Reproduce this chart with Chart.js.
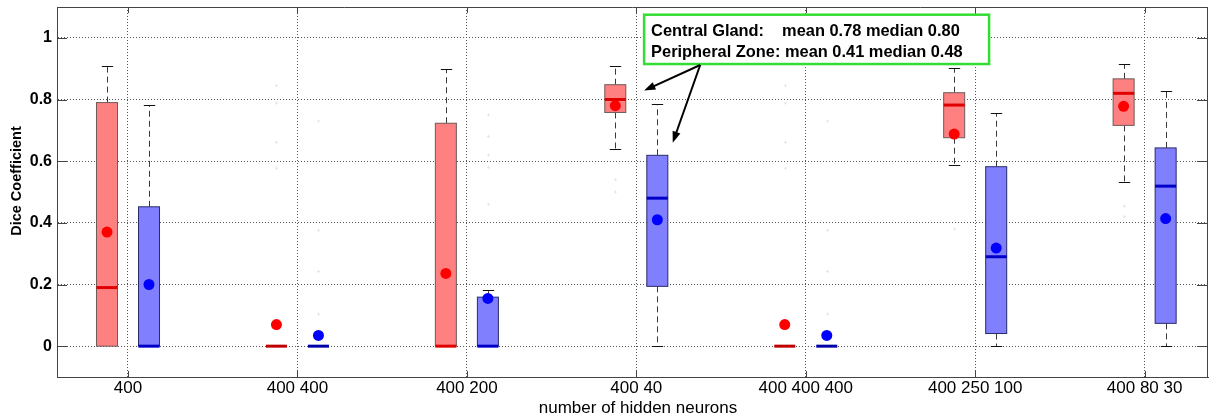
<!DOCTYPE html>
<html>
<head>
<meta charset="utf-8">
<script src="https://cdn.jsdelivr.net/npm/chart.js@4.4.1/dist/chart.umd.min.js"></script>
<style>
  html, body { margin: 0; padding: 0; background: #fff; }
  #wrap { width: 1216px; height: 419px; position: relative; }
</style>
</head>
<body>
<div id="wrap"><canvas id="diceChart"></canvas></div>
<script>
// network configurations on the x axis
const labels = ['400', '400 400', '400 200', '400 40', '400 400 400', '400 250 100', '400 80 30'];
const yTicks = [0, 0.2, 0.4, 0.6, 0.8, 1];

// Central Gland (red)
const cgLow  = [0,     0, 0,     0.638, 0, 0.587, 0.532];
const cgQ1   = [0,     0, 0,     0.758, 0, 0.676, 0.716];
const cgMed  = [0.19,  0, 0,     0.80,  0, 0.782, 0.82];
const cgQ3   = [0.79,  0, 0.723, 0.848, 0, 0.822, 0.867];
const cgHigh = [0.908, 0, 0.898, 0.908, 0, 0.903, 0.915];
const cgMean = [0.37,  0.07, 0.236, 0.78, 0.07, 0.688, 0.778];
const cgOut  = [[], [0.845, 0.788, 0.661, 0.577], [], [0.54, 0.50], [0.845, 0.788, 0.661, 0.577], [0.38], [0.454, 0.42]];

// Peripheral Zone (blue)
const pzLow  = [0,     0, 0,     0,     0, 0,     0];
const pzQ1   = [0,     0, 0,     0.194, 0, 0.041, 0.074];
const pzMed  = [0,     0, 0,     0.48,  0, 0.29,  0.519];
const pzQ3   = [0.452, 0, 0.159, 0.619, 0, 0.582, 0.643];
const pzHigh = [0.782, 0, 0.182, 0.787, 0, 0.755, 0.826];
const pzMean = [0.2,   0.035, 0.155, 0.41, 0.035, 0.318, 0.414];
const pzOut  = [[], [0.73, 0.376, 0.242, 0.104], [0.75, 0.68, 0.62, 0.58, 0.46], [], [0.73, 0.376, 0.242, 0.104], [], []];

const SHIFT = 0.124;   // box offset from the tick, in category units
const BOXW = 0.124;    // box width, in category units
const FONT = '"Liberation Sans", Arial, sans-serif';

const series = [
  { low: cgLow, q1: cgQ1, med: cgMed, q3: cgQ3, high: cgHigh, out: cgOut, shift: -SHIFT,
    fill: '#ff8080', edge: '#6e5a5a', medColor: '#e00000', flatColor: '#c00000' },
  { low: pzLow, q1: pzQ1, med: pzMed, q3: pzQ3, high: pzHigh, out: pzOut, shift: SHIFT,
    fill: '#8080ff', edge: '#2a2a6a', medColor: '#0000c8', flatColor: '#0000a8' }
];

// boxes, whiskers, medians and faint outliers, drawn under the mean dots
const boxPlugin = {
  id: 'boxes',
  beforeDatasetsDraw(chart) {
    const { ctx, scales: { x, y } } = chart;
    ctx.save();
    series.forEach(s => {
      labels.forEach((_, i) => {
        const c = i + 1 + s.shift;
        const xl = x.getPixelForValue(c - BOXW / 2);
        const xr = x.getPixelForValue(c + BOXW / 2);
        const xc = Math.round(x.getPixelForValue(c)) + 0.5;
        const capW = (xr - xl) * 0.27;
        const yq1 = y.getPixelForValue(s.q1[i]);
        const yq3 = y.getPixelForValue(s.q3[i]);

        // outliers
        ctx.strokeStyle = '#e6e6e6';
        ctx.lineWidth = 1;
        ctx.setLineDash([]);
        s.out[i].forEach(v => {
          const py = y.getPixelForValue(v);
          ctx.beginPath();
          ctx.moveTo(xc - 1.5, py); ctx.lineTo(xc + 1.5, py);
          ctx.moveTo(xc, py - 1.5); ctx.lineTo(xc, py + 1.5);
          ctx.stroke();
        });

        // whiskers
        const whisker = (from, to) => {
          if (Math.abs(to - from) < 1e-6) return;
          const p0 = y.getPixelForValue(from), p1 = Math.round(y.getPixelForValue(to)) + 0.5;
          ctx.strokeStyle = '#3a3a3a';
          ctx.lineWidth = 1;
          ctx.setLineDash([6, 4]);
          ctx.beginPath();
          ctx.moveTo(xc, p0); ctx.lineTo(xc, p1);
          ctx.stroke();
          ctx.setLineDash([]);
          ctx.strokeStyle = '#111';
          ctx.beginPath();
          ctx.moveTo(xc - capW, p1); ctx.lineTo(xc + capW, p1);
          ctx.stroke();
        };
        whisker(s.q3[i], s.high[i]);
        whisker(s.q1[i], s.low[i]);

        // box
        const flat = yq1 - yq3 < 0.5;
        if (!flat) {
          ctx.fillStyle = s.fill;
          ctx.fillRect(xl, yq3, xr - xl, yq1 - yq3);
          ctx.strokeStyle = s.edge;
          ctx.lineWidth = 1;
          ctx.strokeRect(xl, yq3, xr - xl, yq1 - yq3);
        }

        // median
        const ym = y.getPixelForValue(s.med[i]);
        ctx.strokeStyle = flat ? s.flatColor : s.medColor;
        ctx.lineWidth = 3;
        ctx.beginPath();
        ctx.moveTo(xl, ym); ctx.lineTo(xr, ym);
        ctx.stroke();
      });
    });
    ctx.restore();
  }
};

// axis frame, inward tick marks, axis titles and the note with arrows
const framePlugin = {
  id: 'frame',
  afterDraw(chart) {
    const { ctx, chartArea: a, scales: { x, y } } = chart;
    ctx.save();
    ctx.strokeStyle = '#444';
    ctx.lineWidth = 1;
    ctx.beginPath();
    ctx.moveTo(a.left, a.top + 0.5); ctx.lineTo(a.right, a.top + 0.5);
    ctx.moveTo(a.right - 0.5, a.top); ctx.lineTo(a.right - 0.5, a.bottom);
    yTicks.forEach(v => {
      const py = Math.round(y.getPixelForValue(v)) + 0.5;
      ctx.moveTo(a.left, py); ctx.lineTo(a.left + 10, py);
      ctx.moveTo(a.right, py); ctx.lineTo(a.right - 11, py);
    });
    labels.forEach((_, i) => {
      const px = Math.round(x.getPixelForValue(i + 1)) + 0.5;
      ctx.moveTo(px, a.bottom); ctx.lineTo(px, a.bottom - 6);
      ctx.moveTo(px, a.top); ctx.lineTo(px, a.top + 6);
    });
    ctx.stroke();

    // axis titles
    ctx.fillStyle = '#000';
    ctx.textAlign = 'center';
    ctx.textBaseline = 'middle';
    ctx.font = '17px ' + FONT;
    ctx.fillText('number of hidden neurons', 638, 408);
    ctx.save();
    ctx.translate(17, 181);
    ctx.rotate(-Math.PI / 2);
    ctx.font = 'bold 14.5px ' + FONT;
    ctx.fillText('Dice Coefficient', 0, 0);
    ctx.restore();

    // note box for the 400 40 network
    const k = 3;
    const bl = x.getPixelForValue(4.046), br = x.getPixelForValue(6.082);
    const bt = y.getPixelForValue(1.075), bb = y.getPixelForValue(0.915);
    ctx.fillStyle = '#fff';
    ctx.fillRect(bl, bt, br - bl, bb - bt);
    ctx.strokeStyle = '#33dd33';
    ctx.lineWidth = 2.5;
    ctx.strokeRect(bl, bt, br - bl, bb - bt);
    ctx.fillStyle = '#000';
    ctx.textAlign = 'left';
    ctx.font = 'bold 16.4px ' + FONT;
    ctx.fillText('Central Gland:', bl + 7, bt + 17);
    ctx.fillText(`mean ${cgMean[k].toFixed(2)} median ${cgMed[k].toFixed(2)}`, bl + 138, bt + 17);
    ctx.fillText(`Peripheral Zone: mean ${pzMean[k].toFixed(2)} median ${pzMed[k].toFixed(2)}`, bl + 7, bt + 38);

    // arrows from the note to both boxes
    const sx = x.getPixelForValue(4.377), sy = y.getPixelForValue(0.912);
    const arrow = (tx, ty) => {
      const ex = x.getPixelForValue(tx), ey = y.getPixelForValue(ty);
      const ang = Math.atan2(ey - sy, ex - sx);
      ctx.strokeStyle = '#000';
      ctx.lineWidth = 2;
      ctx.beginPath();
      ctx.moveTo(sx, sy);
      ctx.lineTo(ex - 6 * Math.cos(ang), ey - 6 * Math.sin(ang));
      ctx.stroke();
      ctx.fillStyle = '#000';
      ctx.beginPath();
      ctx.moveTo(ex, ey);
      ctx.lineTo(ex - 12 * Math.cos(ang - 0.35), ey - 12 * Math.sin(ang - 0.35));
      ctx.lineTo(ex - 12 * Math.cos(ang + 0.35), ey - 12 * Math.sin(ang + 0.35));
      ctx.closePath();
      ctx.fill();
    };
    arrow(4.046, 0.829);
    arrow(4.215, 0.66);
    ctx.restore();
  }
};

const ctx = document.getElementById('diceChart').getContext('2d');
new Chart(ctx, {
  type: 'scatter',
  data: {
    datasets: [
      {
        label: 'Central Gland mean',
        data: cgMean.map((v, i) => ({ x: i + 1 - SHIFT, y: v })),
        backgroundColor: '#ff0000', borderColor: '#ff0000',
        pointRadius: 5.5, pointBorderWidth: 0
      },
      {
        label: 'Peripheral Zone mean',
        data: pzMean.map((v, i) => ({ x: i + 1 + SHIFT, y: v })),
        backgroundColor: '#0000ff', borderColor: '#0000ff',
        pointRadius: 5.5, pointBorderWidth: 0
      }
    ]
  },
  options: {
    responsive: true,
    maintainAspectRatio: false,
    animation: false,
    layout: { padding: { top: 7, right: 8, left: 0, bottom: 0 } },
    plugins: { legend: { display: false }, tooltip: { enabled: false } },
    scales: {
      x: {
        type: 'linear',
        min: 0.581,
        max: 7.374,
        afterBuildTicks: s => { s.ticks = labels.map((_, i) => ({ value: i + 1 })); },
        afterFit: s => { s.height = 42; s.paddingLeft = 0; s.paddingRight = 0; },
        ticks: {
          callback: (v, i) => labels[i],
          color: '#000',
          font: { family: FONT, size: 17 },
          padding: 1,
          maxRotation: 0,
          autoSkip: false
        },
        grid: { color: '#555', lineWidth: 1, drawTicks: false },
        border: { color: '#444', width: 1, dash: [1, 2] }
      },
      y: {
        min: -0.1,
        max: 1.1,
        afterBuildTicks: s => { s.ticks = yTicks.map(v => ({ value: v })); },
        afterFit: s => { s.width = 57; s.paddingTop = 0; s.paddingBottom = 0; },
        ticks: {
          callback: v => String(Math.round(v * 10) / 10),
          color: '#000',
          font: { family: FONT, size: 16, weight: 'bold' },
          padding: 5
        },
        grid: { color: '#555', lineWidth: 1, drawTicks: false },
        border: { color: '#444', width: 1, dash: [1, 2] }
      }
    }
  },
  plugins: [boxPlugin, framePlugin]
});
</script>
</body>
</html>
